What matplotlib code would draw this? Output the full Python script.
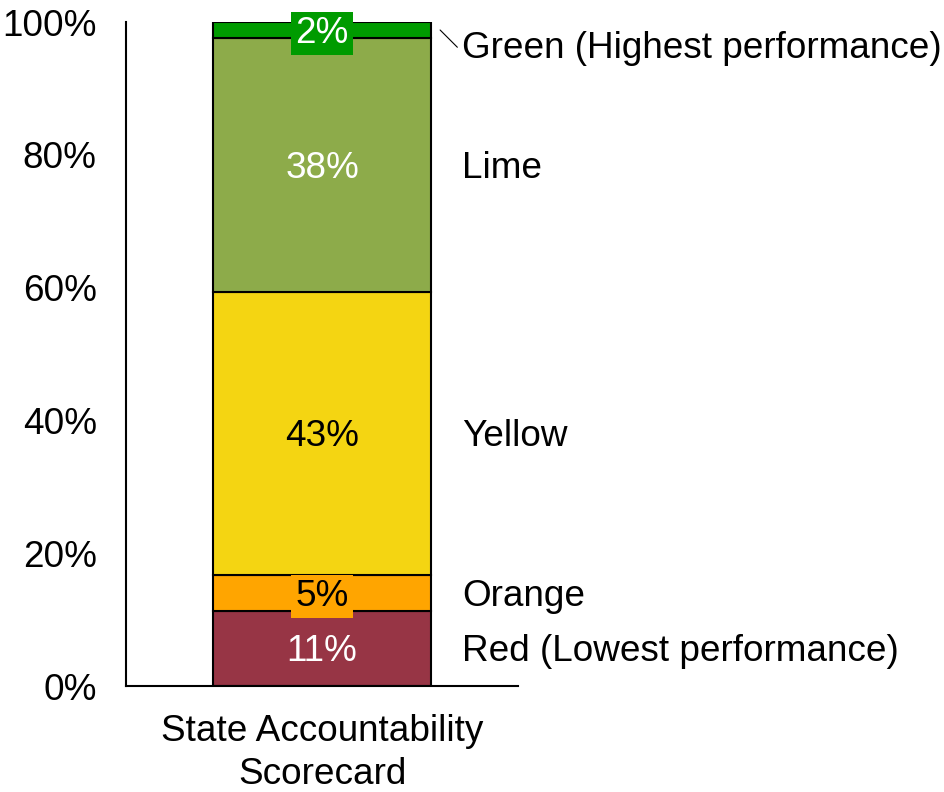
import matplotlib
matplotlib.use('Agg')
import matplotlib.pyplot as plt

plt.rcParams['font.family'] = ['Liberation Sans', 'DejaVu Sans']

# data
categories = ['Red (Lowest performance)', 'Orange', 'Yellow', 'Lime', 'Green (Highest performance)']
values = [11.3, 5.4, 42.7, 38.2, 2.4]
labels = ['11%', '5%', '43%', '38%', '2%']
colors = ['#973545', '#FFA500', '#F4D512', '#8DAB4A', '#009B00']
text_colors = ['white', 'black', 'black', 'white', 'white']
boxed = [False, True, False, False, True]
bar_name = 'State Accountability\nScorecard'

FS = 26.6
dy = 0.5  # small downward nudge so text sits like the original

fig = plt.figure(figsize=(9.45, 7.92), dpi=100)
ax = fig.add_axes([0.1333, 0.1338, 0.415, 0.8384])

bottom = 0
for val, col, lab, tc, bx, cat in zip(values, colors, labels, text_colors, boxed, categories):
    ax.bar(0, val, width=0.556, bottom=bottom, color=col, edgecolor='black', linewidth=1.5)
    mid = bottom + val / 2
    bbox = dict(facecolor=col, edgecolor='none', pad=3) if bx else None
    ax.text(0, mid - dy, lab, ha='center', va='center', color=tc, fontsize=FS, bbox=bbox)
    if cat.startswith('Green'):
        # leader line from the thin top segment to its label
        ax.annotate('', xy=(0.301, mid), xytext=(0.345, mid - 2.6), annotation_clip=False,
                    arrowprops=dict(arrowstyle='-', color='black', lw=0.8, shrinkA=0, shrinkB=0))
        ax.text(0.357, mid - 2.3 - dy, cat, ha='left', va='center', fontsize=FS, clip_on=False)
    else:
        ax.text(0.357, mid - dy, cat, ha='left', va='center', fontsize=FS, clip_on=False)
    bottom += val

ax.set_xlim(-0.5, 0.5)
ax.set_ylim(0, 100)
ax.set_yticks([0, 20, 40, 60, 80, 100])
ax.set_yticklabels(['0%', '20%', '40%', '60%', '80%', '100%'])
ax.tick_params(axis='y', length=0, labelsize=FS, pad=21)
ax.set_xticks([0])
ax.set_xticklabels([bar_name], linespacing=1.32)
ax.tick_params(axis='x', length=0, labelsize=FS, pad=20)
for s in ['top', 'right']:
    ax.spines[s].set_visible(False)
ax.spines['left'].set_linewidth(1.5)
ax.spines['bottom'].set_linewidth(1.5)

fig.savefig('out.png', dpi=100)
